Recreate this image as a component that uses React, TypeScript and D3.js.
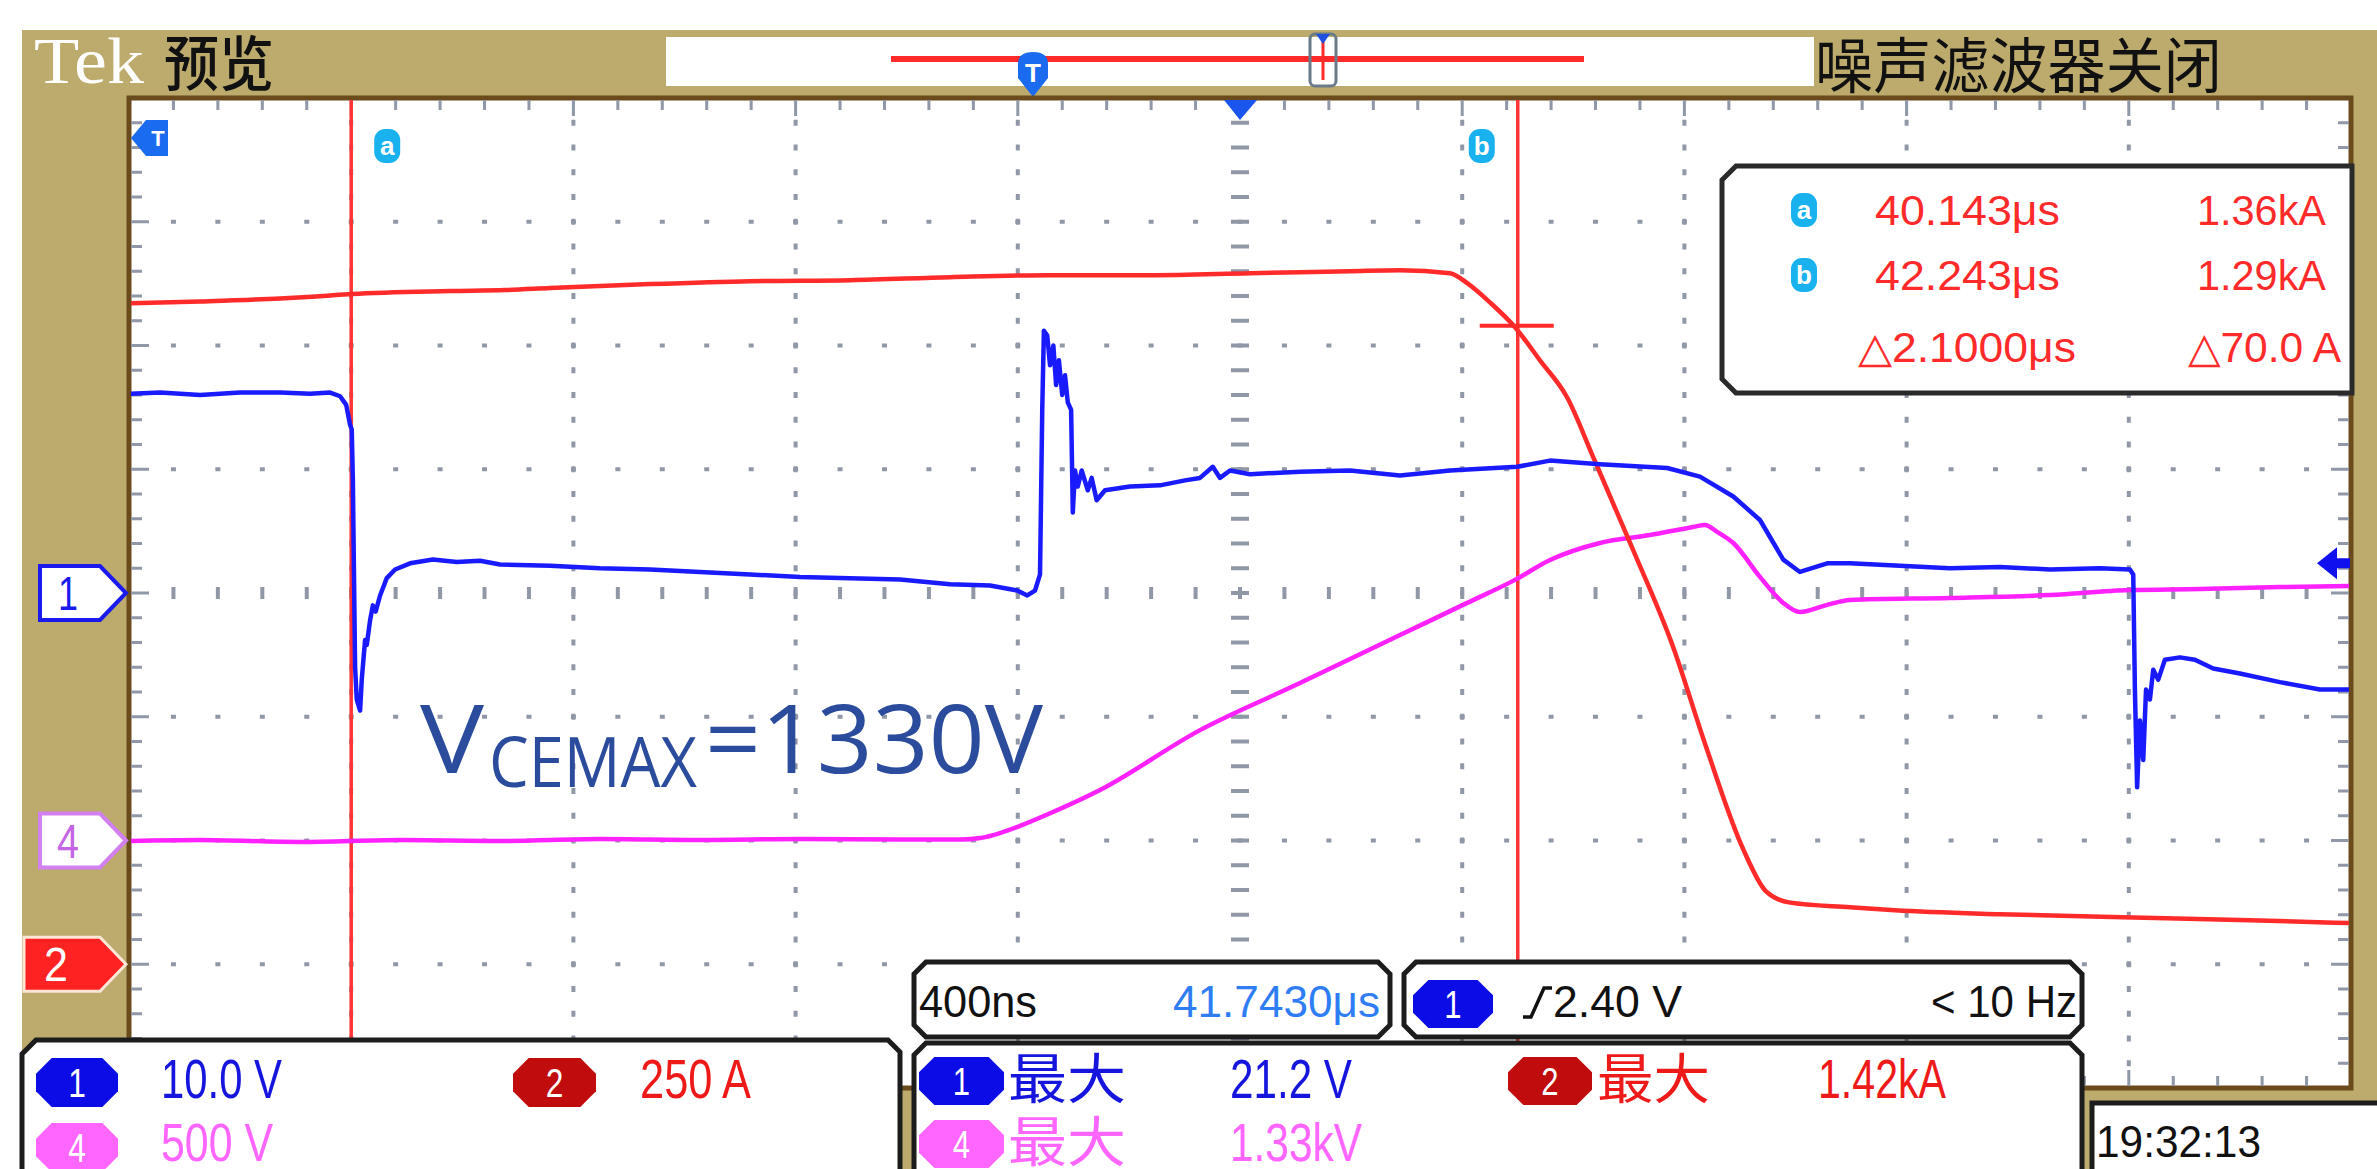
import React, { useRef, useEffect } from 'react';
import * as d3 from 'd3';

const W = 2377;
const H = 1169;

// time base: 400 ns/div, 10 divisions, centred on 41.7430 us
const timeWindow = [39.743, 43.743];
// vertical windows (8 divisions): ch1 10 V/div, ch2 250 A/div, ch4 500 V/div
const ch1Window = [-40, 40];
const ch2Window = [-250, 1750];
const ch4Window = [-1000, 3000];

const cursorTimes = [40.143, 42.243];
const cursorNames = ['a', 'b'];
const ch1TriggerLevel = 2.4;

// ch1 gate voltage [us, V]
const ch1Trace: [number, number][] = [
  [39.743, 16.1], [39.799, 16.2], [39.871, 16.0], [39.943, 16.2], [40.015, 16.2], [40.069, 16.1],
  [40.105, 16.2], [40.123, 15.9], [40.134, 15.2], [40.141, 13.6], [40.144, 13.2], [40.146, 9.1],
  [40.150, -6.0], [40.153, -8.6], [40.159, -9.5], [40.162, -7.0], [40.168, -3.8], [40.171, -4.2],
  [40.177, -2.2], [40.182, -1.0], [40.187, -1.5], [40.195, -0.2], [40.207, 1.2], [40.222, 1.9],
  [40.249, 2.4], [40.290, 2.7], [40.333, 2.5], [40.375, 2.6], [40.411, 2.3], [40.501, 2.2],
  [40.591, 2.0], [40.681, 1.9], [40.771, 1.7], [40.861, 1.5], [40.951, 1.3], [41.041, 1.2],
  [41.131, 1.1], [41.221, 0.7], [41.293, 0.6], [41.342, 0.2], [41.360, -0.2], [41.374, 0.2],
  [41.383, 1.5], [41.387, 14.8], [41.390, 21.2], [41.396, 20.8], [41.401, 18.4], [41.407, 20.0],
  [41.412, 16.8], [41.417, 18.8], [41.423, 16.0], [41.428, 17.6], [41.433, 15.4], [41.439, 14.8],
  [41.442, 6.5], [41.446, 9.9], [41.451, 8.6], [41.458, 9.9], [41.469, 8.3], [41.476, 9.3],
  [41.485, 7.5], [41.500, 8.3], [41.545, 8.6], [41.599, 8.7], [41.644, 9.1], [41.671, 9.3],
  [41.694, 10.2], [41.707, 9.3], [41.725, 9.9], [41.761, 9.6], [41.851, 9.8], [41.941, 9.9],
  [42.031, 9.5], [42.121, 9.9], [42.242, 10.2], [42.301, 10.7], [42.391, 10.4], [42.512, 10.1],
  [42.571, 9.4], [42.631, 7.8], [42.679, 5.9], [42.721, 2.7], [42.751, 1.7], [42.800, 2.4],
  [42.841, 2.4], [42.931, 2.2], [43.021, 2.0], [43.111, 2.1], [43.201, 1.9], [43.291, 2.0],
  [43.345, 1.9], [43.351, 1.5], [43.354, -7.8], [43.358, -15.7], [43.363, -10.3], [43.369, -13.5],
  [43.374, -7.8], [43.381, -8.6], [43.387, -6.2], [43.396, -7.0], [43.408, -5.4], [43.435, -5.2],
  [43.462, -5.4], [43.495, -6.1], [43.543, -6.5], [43.615, -7.2], [43.687, -7.8], [43.743, -7.8],
];

// ch2 collector current [us, A]
const ch2Trace: [number, number][] = [
  [39.743, 1335], [39.871, 1339], [40.015, 1345], [40.080, 1349], [40.144, 1354], [40.321, 1360],
  [40.420, 1362], [40.501, 1366], [40.681, 1374], [40.861, 1380], [41.041, 1382], [41.221, 1388],
  [41.401, 1392], [41.581, 1392], [41.761, 1396], [41.941, 1400], [42.031, 1402], [42.121, 1396],
  [42.152, 1376], [42.193, 1337], [42.238, 1287], [42.283, 1220], [42.332, 1145], [42.379, 1024],
  [42.451, 836], [42.523, 640], [42.580, 446], [42.649, 232], [42.690, 147], [42.731, 125],
  [42.841, 115], [42.922, 109], [43.111, 101], [43.331, 95], [43.561, 89], [43.743, 83],
];

// ch4 collector-emitter voltage [us, V]
const ch4Trace: [number, number][] = [
  [39.743, -2], [39.871, 2], [40.051, -6], [40.231, 2], [40.411, -2], [40.591, 6],
  [40.771, 2], [40.951, 6], [41.131, 4], [41.241, 4], [41.275, 10], [41.311, 30],
  [41.347, 59], [41.394, 103], [41.491, 204], [41.671, 446], [41.851, 636], [42.031, 830],
  [42.152, 960], [42.238, 1053], [42.301, 1133], [42.391, 1202], [42.481, 1234], [42.559, 1267],
  [42.580, 1275], [42.602, 1247], [42.631, 1202], [42.679, 1065], [42.721, 960], [42.751, 923],
  [42.800, 952], [42.841, 972], [43.021, 980], [43.201, 992], [43.345, 1012], [43.471, 1016],
  [43.615, 1024], [43.743, 1028],
];

const readoutTimes = ['40.143\u03bcs', '42.243\u03bcs', '\u25b32.1000\u03bcs'];
const readoutAmps = ['1.36kA', '1.29kA', '\u25b370.0 A'];
const scaleLabels = ['10.0 V', '250 A', '500 V'];
const maxLabels = ['21.2 V', '1.42kA', '1.33kV'];

const NARROW = '"Liberation Sans Narrow", "Liberation Sans", Arial, sans-serif';
const CJK = '"Noto Sans CJK SC", sans-serif';
const TAN = '#bdab6d';
const BLUE = '#1a1aff';
const RED = '#ff2a2a';
const PINK = '#ff22ff';

function chamfer(x: number, y: number, w: number, h: number, c: number) {
  return `M${x + c},${y}H${x + w - c}L${x + w},${y + c}V${y + h - c}L${x + w - c},${y + h}H${x + c}L${x},${y + h - c}V${y + c}Z`;
}

export default function App() {
  const svgRef = useRef<SVGSVGElement | null>(null);

  useEffect(() => {
    if (!svgRef.current) return;
    const svg = d3.select(svgRef.current);
    svg.selectAll('*').remove();

    const G = { left: 129, right: 2351, top: 98, bottom: 1088 };
    const x = d3.scaleLinear().domain(timeWindow).range([G.left, G.right]);
    const y1 = d3.scaleLinear().domain(ch1Window).range([G.bottom, G.top]);
    const y2 = d3.scaleLinear().domain(ch2Window).range([G.bottom, G.top]);
    const y4 = d3.scaleLinear().domain(ch4Window).range([G.bottom, G.top]);

    const text = (g: any, tx: number, ty: number, str: string, o: any) =>
      g.append('text')
        .attr('x', tx).attr('y', ty)
        .attr('font-family', o.family ?? NARROW)
        .attr('font-size', o.size)
        .attr('font-weight', o.weight ?? 'normal')
        .attr('fill', o.fill ?? '#000')
        .attr('text-anchor', o.anchor ?? 'start')
        .attr('textLength', o.len)
        .attr('lengthAdjust', o.len ? 'spacingAndGlyphs' : null)
        .text(str);

    const badge = (g: any, bx: number, by: number, w: number, h: number, fill: string, digit: string) => {
      g.append('path').attr('d', chamfer(bx, by, w, h, h * 0.32)).attr('fill', fill);
      text(g, bx + w / 2, by + h * 0.8, digit, { size: h * 0.82, fill: '#fff', anchor: 'middle', len: h * 0.36 });
    };

    // page + bezel
    svg.append('rect').attr('width', W).attr('height', H).attr('fill', '#fff');
    svg.append('rect').attr('x', 22).attr('y', 30).attr('width', W - 22).attr('height', H - 30).attr('fill', TAN);

    // top bar
    text(svg, 34, 83, 'Tek', { family: '"Liberation Serif", serif', size: 66, fill: '#fff', len: 110 });
    text(svg, 164, 86, '预览', { family: CJK, size: 60, fill: '#111', weight: 500, len: 110 });
    svg.append('rect').attr('x', 666).attr('y', 37).attr('width', 1148).attr('height', 49).attr('fill', '#fff');
    svg.append('line').attr('x1', 891).attr('x2', 1584).attr('y1', 59).attr('y2', 59).attr('stroke', RED).attr('stroke-width', 6);
    svg.append('rect').attr('x', 1310).attr('y', 34).attr('width', 26).attr('height', 52).attr('rx', 5)
      .attr('fill', 'none').attr('stroke', '#6b7a88').attr('stroke-width', 3);
    svg.append('line').attr('x1', 1323).attr('x2', 1323).attr('y1', 40).attr('y2', 80).attr('stroke', RED).attr('stroke-width', 3);
    svg.append('path').attr('d', 'M1316,34 L1330,34 L1323,44 Z').attr('fill', '#2050e0');
    svg.append('path').attr('d', 'M1018,64 Q1018,52 1033,52 Q1048,52 1048,64 L1048,78 L1033,97 L1018,78 Z').attr('fill', '#1a6bf0');
    text(svg, 1033, 82, 'T', { size: 26, fill: '#fff', anchor: 'middle', weight: 'bold' });
    text(svg, 1815, 88, '噪声滤波器关闭', { family: CJK, size: 60, fill: '#111', len: 407 });

    // graticule
    const grat = svg.append('g');
    grat.append('rect').attr('x', G.left).attr('y', G.top).attr('width', G.right - G.left).attr('height', G.bottom - G.top)
      .attr('fill', '#fff').attr('stroke', '#6b4a1c').attr('stroke-width', 5);

    const dx = (G.right - G.left) / 10;
    const dy = (G.bottom - G.top) / 8;
    const marks = grat.append('g').attr('fill', '#9097a6');
    d3.range(1, 10).forEach(i => {
      const gx = G.left + i * dx;
      d3.range(1, 40).forEach(k => {
        const gy = G.top + (k * dy) / 5;
        if (i === 5) marks.append('rect').attr('x', gx - 9).attr('y', gy - 2).attr('width', 18).attr('height', 4);
        else marks.append('rect').attr('x', gx - 2).attr('y', gy - 3).attr('width', 4).attr('height', 6);
      });
    });
    d3.range(1, 8).forEach(j => {
      const gy = G.top + j * dy;
      d3.range(1, 50).forEach(k => {
        const gx = G.left + (k * dx) / 5;
        if (j === 4) marks.append('rect').attr('x', gx - 2).attr('y', gy - 6).attr('width', 4).attr('height', 12);
        else marks.append('rect').attr('x', gx - 2.5).attr('y', gy - 2).attr('width', 5).attr('height', 4);
      });
    });
    d3.range(1, 50).forEach(k => {
      const gx = G.left + (k * dx) / 5;
      const len = k % 5 === 0 ? 16 : 10;
      marks.append('rect').attr('x', gx - 1.5).attr('y', G.top + 2).attr('width', 3).attr('height', len);
      marks.append('rect').attr('x', gx - 1.5).attr('y', G.bottom - 2 - len).attr('width', 3).attr('height', len);
    });
    d3.range(1, 40).forEach(k => {
      const gy = G.top + (k * dy) / 5;
      const len = k % 5 === 0 ? 18 : 11;
      marks.append('rect').attr('x', G.left + 2).attr('y', gy - 1.5).attr('width', len).attr('height', 3);
      marks.append('rect').attr('x', G.right - 2 - len).attr('y', gy - 1.5).attr('width', len).attr('height', 3);
    });

    // traces
    svg.append('clipPath').attr('id', 'grat-clip').append('rect')
      .attr('x', G.left + 2).attr('y', G.top + 2).attr('width', G.right - G.left - 4).attr('height', G.bottom - G.top - 4);
    const traces = svg.append('g').attr('clip-path', 'url(#grat-clip)');

    // cursors
    cursorTimes.forEach(t => {
      traces.append('line').attr('x1', x(t)).attr('x2', x(t)).attr('y1', G.top).attr('y2', G.bottom)
        .attr('stroke', '#ff3434').attr('stroke-width', 3.5);
    });

    const series: [[number, number][], any, string, any][] = [
      [ch4Trace, y4, PINK, d3.curveMonotoneX],
      [ch2Trace, y2, RED, d3.curveMonotoneX],
      [ch1Trace, y1, BLUE, d3.curveLinear],
    ];
    series.forEach(([data, ys, color, curve]) => {
      const line = d3.line<[number, number]>().x(d => x(d[0])).y(d => ys(d[1])).curve(curve);
      traces.append('path').attr('d', line(data)).attr('fill', 'none').attr('stroke', color)
        .attr('stroke-width', 4.5).attr('stroke-linejoin', 'round');
    });

    // crosshair where cursor b meets ch2
    const bx = x(cursorTimes[1]);
    const by = y2(1290);
    traces.append('line').attr('x1', bx - 38).attr('x2', bx + 36).attr('y1', by).attr('y2', by)
      .attr('stroke', RED).attr('stroke-width', 4);

    // cursor tags
    const tag = (g: any, cx: number, cy: number, ch: string) => {
      g.append('rect').attr('x', cx - 13).attr('y', cy - 17).attr('width', 26).attr('height', 34).attr('rx', 11).attr('fill', '#19b2ee');
      text(g, cx, cy + 9, ch, { family: '"Liberation Sans", sans-serif', size: 26, fill: '#fff', anchor: 'middle', weight: 'bold' });
    };
    tag(svg, x(cursorTimes[0]) + 36, 146, cursorNames[0]);
    tag(svg, x(cursorTimes[1]) - 36, 146, cursorNames[1]);

    // trigger markers
    svg.append('path').attr('d', 'M1224,100 L1257,100 L1240,120 Z').attr('fill', '#1a55ee');
    svg.append('path').attr('d', 'M131,138 L146,120 L168,120 L168,156 L146,156 Z').attr('fill', '#1a6bf0');
    text(svg, 158, 146, 'T', { size: 22, fill: '#fff', anchor: 'middle', weight: 'bold' });
    const ty = y1(ch1TriggerLevel);
    svg.append('path')
      .attr('d', `M2317,${ty} L2337,${ty - 16} L2337,${ty - 5} L2350,${ty - 5} L2350,${ty + 5} L2337,${ty + 5} L2337,${ty + 16} Z`)
      .attr('fill', '#1010ee');

    // channel ground markers
    const pent = (gy: number, x0: number, fill: string, stroke: string, sw: number) =>
      svg.append('path').attr('d', `M${x0},${gy - 27} H100 L126,${gy} L100,${gy + 27} H${x0} Z`)
        .attr('fill', fill).attr('stroke', stroke).attr('stroke-width', sw);
    pent(y1(0), 40, '#fff', '#1a1aee', 4);
    text(svg, 68, y1(0) + 17, '1', { size: 48, fill: '#1a1aee', anchor: 'middle', len: 20 });
    pent(y4(0), 40, '#fff', '#d27ff0', 4);
    text(svg, 68, y4(0) + 17, '4', { size: 48, fill: '#c565e6', anchor: 'middle', len: 22 });
    pent(y2(0), 24, '#ff2222', '#fde6d6', 3);
    text(svg, 56, y2(0) + 17, '2', { size: 48, fill: '#fff', anchor: 'middle', len: 24 });

    // annotation
    const ann = '#2b4c9c';
    const OPEN = '"Open Sans", "Noto Sans", sans-serif';
    text(svg, 420, 773, 'V', { family: OPEN, size: 95, fill: ann, len: 64 });
    text(svg, 489, 787, 'CEMAX', { family: OPEN, size: 70, fill: ann, len: 208 });
    text(svg, 705, 773, '=1330V', { family: OPEN, size: 95, fill: ann, len: 338 });

    // cursor readout
    const ro = svg.append('g');
    ro.append('path').attr('d', 'M1736,166 H2352 V393 H1736 L1722,379 V180 Z')
      .attr('fill', '#fff').attr('stroke', '#2a2a2a').attr('stroke-width', 5);
    tag(ro, 1804, 210, cursorNames[0]);
    tag(ro, 1804, 275, cursorNames[1]);
    const rowY = [225, 290, 362];
    text(ro, 1875, rowY[0], readoutTimes[0], { size: 42, fill: RED, len: 185 });
    text(ro, 1875, rowY[1], readoutTimes[1], { size: 42, fill: RED, len: 185 });
    text(ro, 1858, rowY[2], readoutTimes[2], { size: 42, fill: RED, len: 218 });
    text(ro, 2197, rowY[0], readoutAmps[0], { size: 42, fill: RED, len: 129 });
    text(ro, 2197, rowY[1], readoutAmps[1], { size: 42, fill: RED, len: 129 });
    text(ro, 2188, rowY[2], readoutAmps[2], { size: 42, fill: RED, len: 153 });

    // bottom panels
    const panel = (d: string) =>
      svg.append('path').attr('d', d).attr('fill', '#fff').attr('stroke', '#1c1c1c').attr('stroke-width', 5);

    panel('M36,1040 H888 L900,1052 V1190 H22 V1054 Z');
    badge(svg, 36, 1058, 82, 49, '#0c0ce6', '1');
    text(svg, 161, 1098, scaleLabels[0], { size: 56, fill: '#1515dd', len: 121 });
    badge(svg, 513, 1058, 83, 49, '#c00c0c', '2');
    text(svg, 640, 1098, scaleLabels[1], { size: 56, fill: '#ee1a1a', len: 111 });
    badge(svg, 36, 1123, 82, 49, '#ff66ff', '4');
    text(svg, 161, 1161, scaleLabels[2], { size: 54, fill: '#ff66ff', len: 112 });

    panel('M926,962 H1378 L1390,974 V1025 L1378,1037 H926 L914,1025 V974 Z');
    text(svg, 919, 1017, '400ns', { size: 44, fill: '#111', len: 118 });
    text(svg, 1173, 1017, '41.7430\u03bcs', { size: 44, fill: '#2f7df5', len: 207 });

    panel('M1416,962 H2070 L2082,974 V1025 L2070,1037 H1416 L1404,1025 V974 Z');
    badge(svg, 1413, 980, 80, 48, '#0c0ce6', '1');
    svg.append('path').attr('d', 'M1523,1017 H1531 L1544,988 H1552').attr('fill', 'none').attr('stroke', '#111').attr('stroke-width', 3.5);
    text(svg, 1553, 1017, '2.40 V', { size: 44, fill: '#111', len: 129 });
    text(svg, 1931, 1017, '< 10 Hz', { size: 44, fill: '#111', len: 146 });

    panel('M926,1043 H2070 L2082,1055 V1190 H914 V1055 Z');
    badge(svg, 919, 1057, 85, 48, '#0c0ce6', '1');
    text(svg, 1008, 1099, '最大', { family: CJK, size: 54, fill: '#1515dd', len: 118 });
    text(svg, 1230, 1098, maxLabels[0], { size: 56, fill: '#1515dd', len: 122 });
    badge(svg, 1508, 1057, 84, 48, '#c00c0c', '2');
    text(svg, 1597, 1099, '最大', { family: CJK, size: 54, fill: '#ee1a1a', len: 113 });
    text(svg, 1818, 1098, maxLabels[1], { size: 56, fill: '#ee1a1a', len: 128 });
    badge(svg, 919, 1120, 85, 48, '#ff66ff', '4');
    text(svg, 1008, 1162, '最大', { family: CJK, size: 54, fill: '#ff66ff', len: 118 });
    text(svg, 1230, 1161, maxLabels[2], { size: 54, fill: '#ff66ff', len: 132 });

    panel('M2092,1103 H2390 V1190 H2092 Z');
    text(svg, 2096, 1157, '19:32:13', { size: 44, fill: '#111', len: 165 });
  }, []);

  return (
    <svg
      ref={svgRef}
      width={W}
      height={H}
      style={{ position: 'absolute', left: 0, top: 0, display: 'block' }}
    />
  );
}
